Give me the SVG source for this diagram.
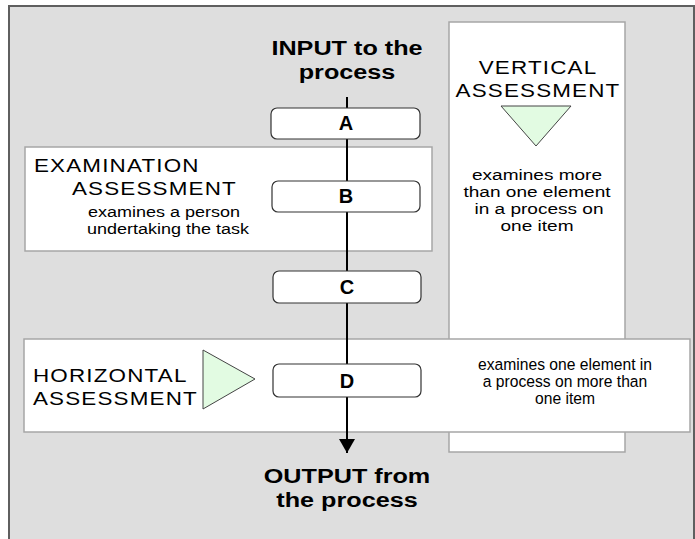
<svg xmlns="http://www.w3.org/2000/svg" width="695" height="539" viewBox="0 0 695 539">
<style>
.panel{fill:#ffffff;stroke:#a6a6a6;stroke-width:1.5}
.proc{fill:#ffffff;stroke:#333333;stroke-width:1.2}
.tri{fill:#e2fbe2;stroke:#444444;stroke-width:1}
.lbl{font-family:"Liberation Sans",Arial,sans-serif;font-weight:bold;font-size:20px;fill:#000;text-anchor:middle}
.big{font-family:"Liberation Sans",Arial,sans-serif;font-weight:bold;font-size:21px;fill:#000;text-anchor:middle}
.cap{font-family:"Liberation Sans",Arial,sans-serif;font-size:19px;letter-spacing:1px;fill:#000}
.sm{font-family:"Liberation Sans",Arial,sans-serif;font-size:15px;fill:#000;text-anchor:middle}
.mid{text-anchor:middle}
</style>
<defs>
<marker id="arr" viewBox="0 0 14 16" refX="14" refY="8" markerWidth="14" markerHeight="16" markerUnits="userSpaceOnUse" orient="auto">
<path d="M0,0 L14,8 L0,16 Z" fill="#000"/>
</marker>
</defs>
<rect x="9" y="6" width="685" height="545" fill="#dedede" stroke="#5f5f5f" stroke-width="2"/>
<g id="vertical">
<rect class="panel" x="449" y="22" width="176" height="430"/>
<text class="cap mid" transform="translate(538,74) scale(1.18,1)">VERTICAL</text>
<text class="cap mid" transform="translate(538,97) scale(1.18,1)">ASSESSMENT</text>
<polygon class="tri" points="501,106 571,106 536,146"/>
<text class="sm" transform="translate(537,180) scale(1.27,1)">examines more</text>
<text class="sm" transform="translate(537,197) scale(1.27,1)">than one element</text>
<text class="sm" transform="translate(539,214) scale(1.27,1)">in a process on</text>
<text class="sm" transform="translate(537,231) scale(1.27,1)">one item</text>
</g>
<g id="examination">
<rect class="panel" x="25" y="147" width="407" height="104"/>
<text class="cap" transform="translate(34,172) scale(1.18,1)">EXAMINATION</text>
<text class="cap" transform="translate(72,195) scale(1.18,1)">ASSESSMENT</text>
<text class="sm" transform="translate(164,217) scale(1.2,1)">examines a person</text>
<text class="sm" transform="translate(168,234) scale(1.2,1)">undertaking the task</text>
</g>
<g id="horizontal">
<rect class="panel" x="24" y="339" width="666" height="93"/>
<text class="cap" transform="translate(33,382) scale(1.18,1)">HORIZONTAL</text>
<text class="cap" transform="translate(33,405) scale(1.18,1)">ASSESSMENT</text>
<polygon class="tri" points="203,350 255,379 203,409"/>
<text class="sm" transform="translate(565,370) scale(0.95,1)" style="font-size:16.5px">examines one element in</text>
<text class="sm" transform="translate(565,387) scale(0.95,1)" style="font-size:16.5px">a process on more than</text>
<text class="sm" transform="translate(565,404) scale(0.95,1)" style="font-size:16.5px">one item</text>
</g>
<g id="connectors">
<line x1="347" y1="97" x2="347" y2="453" stroke="#000" stroke-width="2" marker-end="url(#arr)"/>
</g>
<g id="input">
<text class="big" transform="translate(347,55) scale(1.2,1)">INPUT to the</text>
<text class="big" transform="translate(347,79) scale(1.2,1)">process</text>
</g>
<g id="nodeA">
<rect class="proc" x="271" y="108" width="149" height="31" rx="6"/>
<text class="lbl" x="346" y="130">A</text>
</g>
<g id="nodeB">
<rect class="proc" x="272" y="181" width="148" height="31" rx="6"/>
<text class="lbl" x="346" y="203">B</text>
</g>
<g id="nodeC">
<rect class="proc" x="273" y="271" width="148" height="32" rx="6"/>
<text class="lbl" x="347" y="294">C</text>
</g>
<g id="nodeD">
<rect class="proc" x="273" y="364" width="148" height="33" rx="6"/>
<text class="lbl" x="347" y="388">D</text>
</g>
<g id="output">
<text class="big" transform="translate(347,483) scale(1.2,1)">OUTPUT from</text>
<text class="big" transform="translate(347,507) scale(1.2,1)">the process</text>
</g>
</svg>
